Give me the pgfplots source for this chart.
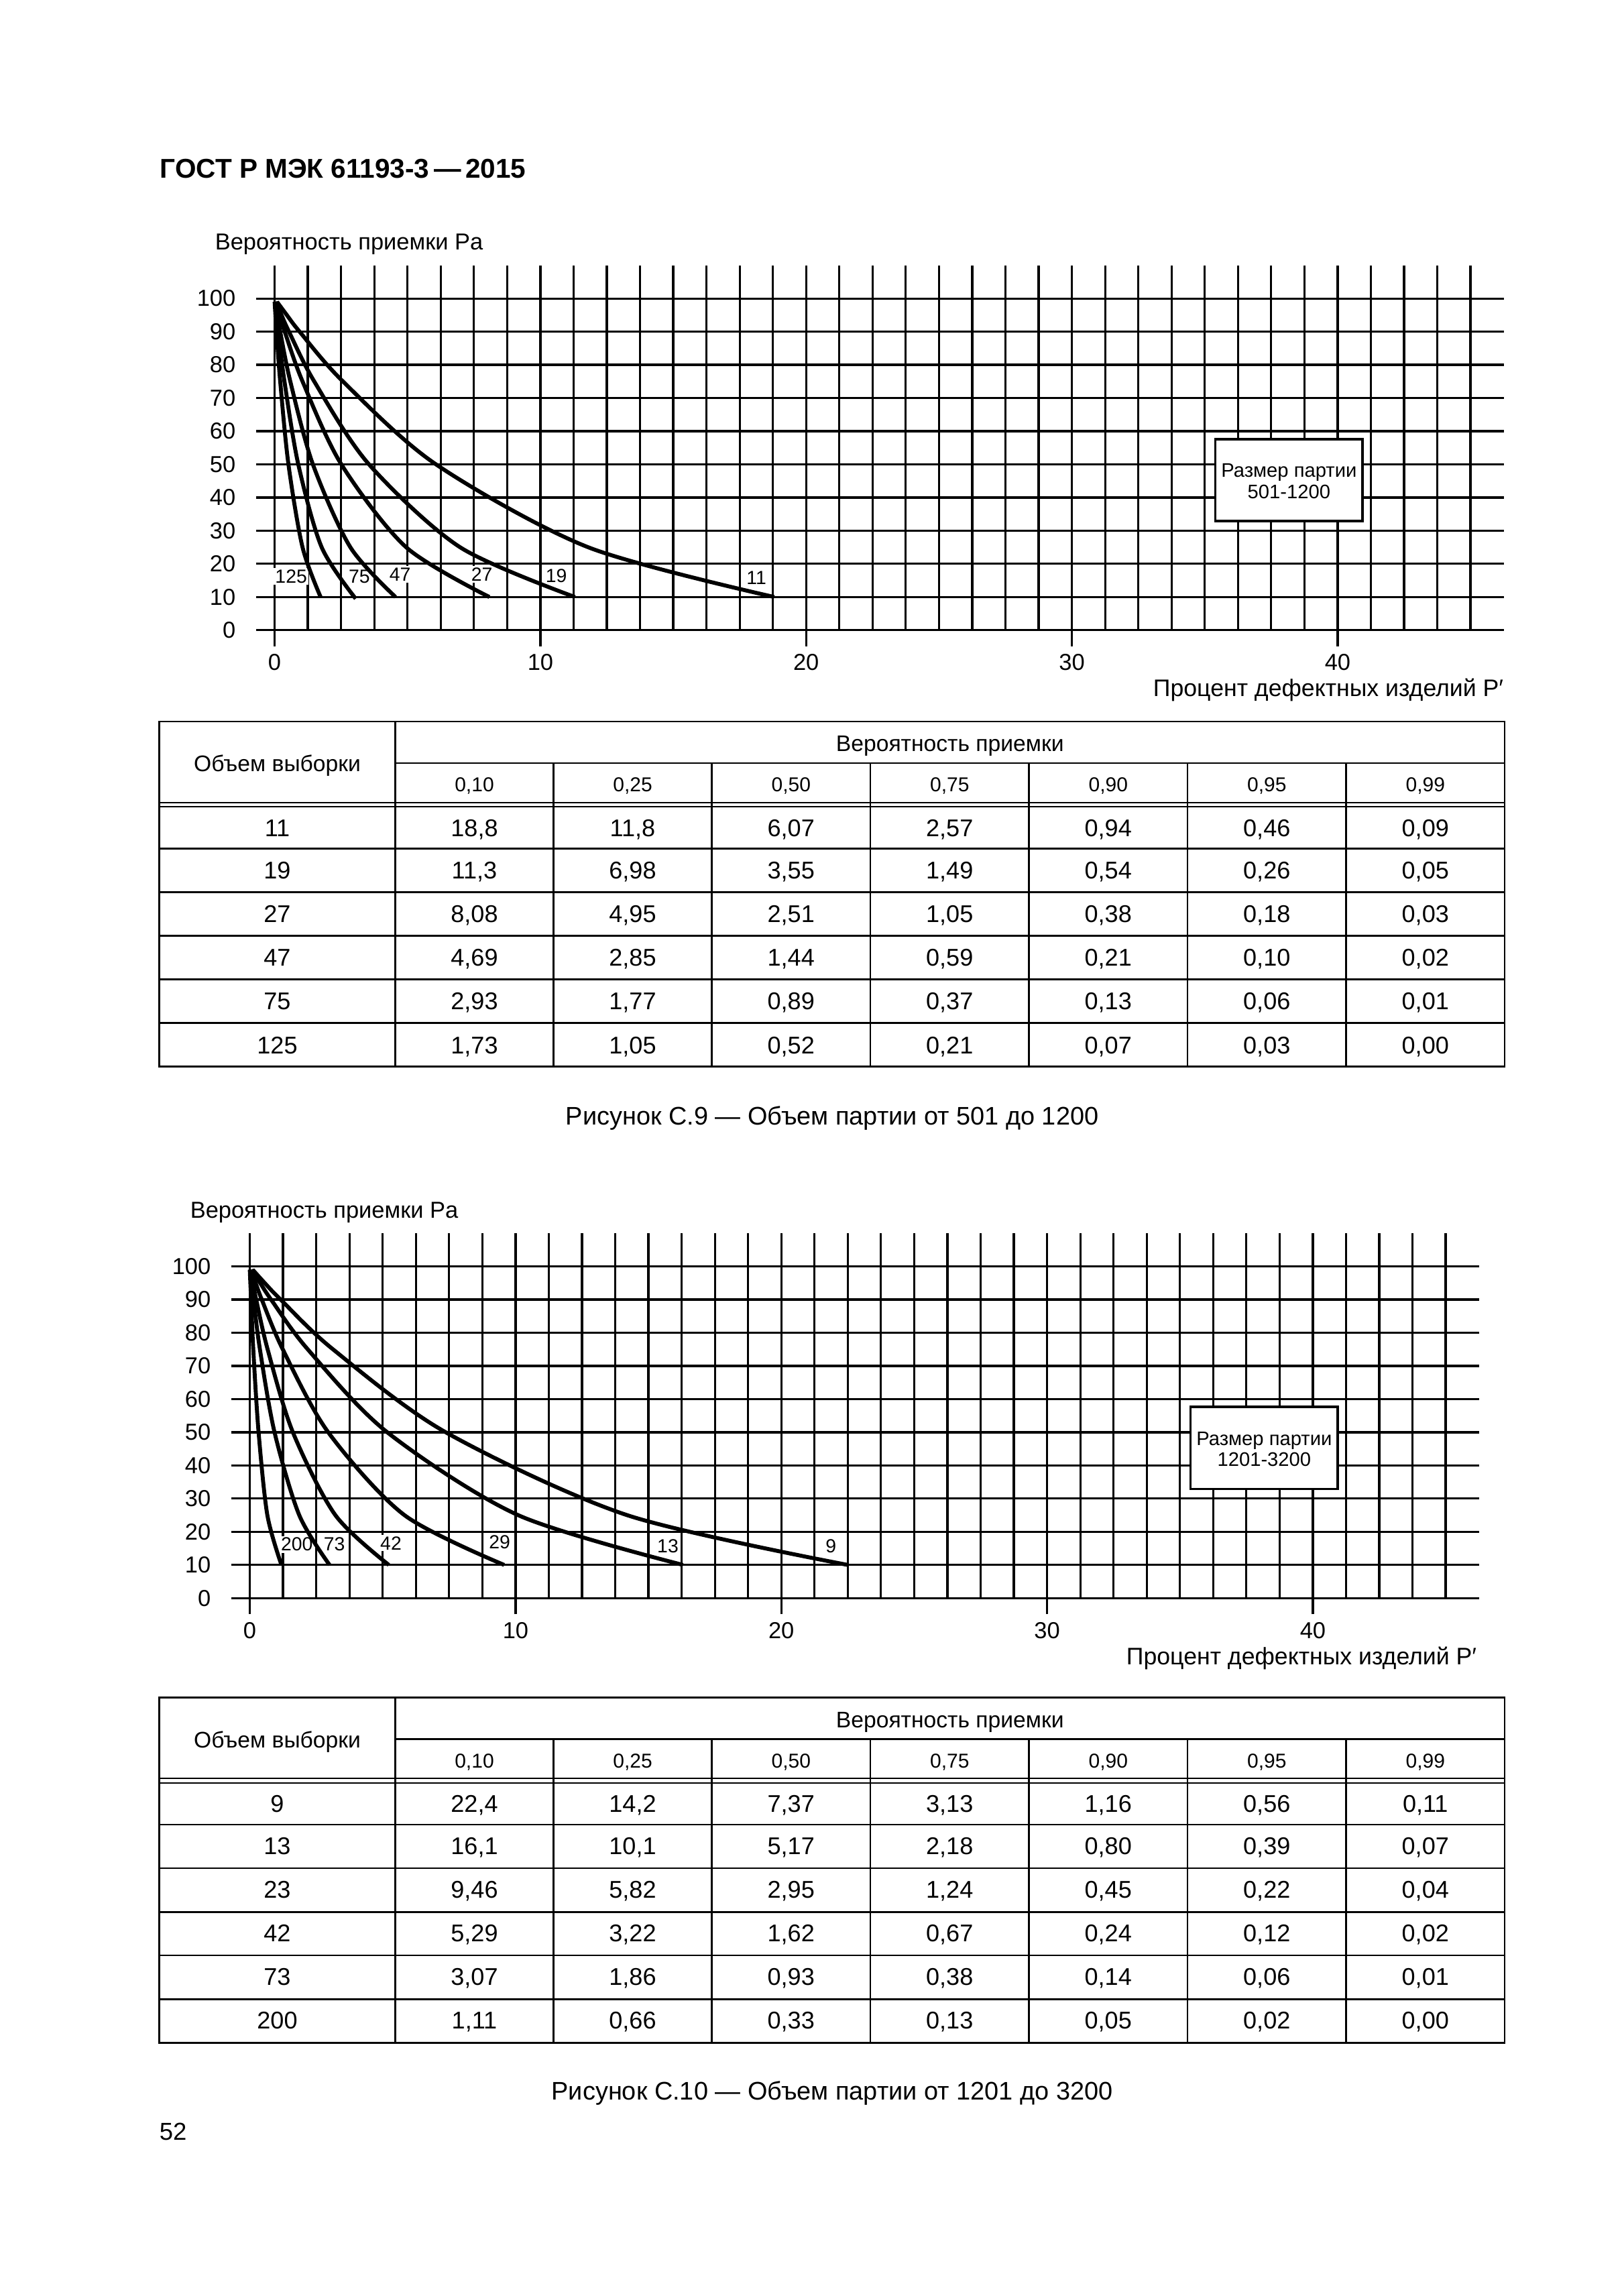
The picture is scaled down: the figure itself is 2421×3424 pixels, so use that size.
\documentclass[border=0pt]{standalone}
\usepackage{fontspec}
\setmainfont{Liberation Sans}
\usepackage{pgfplots}
\pgfplotsset{compat=1.18}

\newcommand\fs[1]{\fontsize{#1}{#1}\selectfont}

% common look of both OC charts
\pgfplotsset{oc/.style={
  x=3.4373mm, y=0.42899mm, anchor=south west,
  xmin=-0.7, xmax=46.25, ymin=0, ymax=110,
  clip=false,
  axis line style={draw=none},
  xtick={0,10,20,30,40},
  minor xtick={1.25,2.5,...,45},
  ytick={0,10,...,100},
  grid=both,
  major grid style={black,line width=0.8pt},
  minor grid style={black,line width=0.8pt},
  tick align=outside,
  major tick length=2.08mm, minor tick length=0pt,
  xtick pos=bottom, ytick pos=left,
  xtick style={black,line width=0.8pt},
  ytick style={draw=none},
  tick label style={font=\fs{8.5}},
  /pgf/number format/assume math mode=true,
  xticklabel style={anchor=north,inner sep=0pt,yshift=-0.95mm},
  yticklabel style={anchor=east,inner sep=0pt,xshift=-0.5mm},
}}
\tikzset{
  oc curve/.style={black,line width=1.45pt,smooth,mark=none},
  lab/.style={fill=white,inner sep=0.6pt,font=\fs{7}},
  hd/.style={anchor=base,inner sep=0pt,font=\fs{8.3}},
  hv/.style={anchor=base,inner sep=0pt,font=\fs{7.4}},
  dv/.style={anchor=base,inner sep=0pt,font=\fs{8.9}},
}

% table frame, #1 = top edge
\newcommand\tablegrid[1]{%
\begin{scope}[shift={(0,#1)},line width=0.65pt]
  \draw (237.5,0) rectangle (2244,-514.7);
  \draw (589.5,-62) -- (2244,-62);
  \draw[line width=0.45pt] (237.5,-120.7) -- (2244,-120.7) (237.5,-127.3) -- (2244,-127.3);
  \foreach \r in {189.4,254.4,319.7,384.4,449.7} \draw (237.5,-\r) -- (2244,-\r);
  \draw (589.5,0) -- (589.5,-514.7);
  \foreach \c in {825.5,1061.5,1298,1534.5,1771,2007.5} \draw (\c,-62) -- (\c,-514.7);
  \node[hd] at (1416.75,-44.5) {Вероятность приемки};
  \node[hd] at (413.5,-74.5) {Объем выборки};
  \node[hv] at (707.5,-105) {0,10};
  \node[hv] at (943.5,-105) {0,25};
  \node[hv] at (1179.75,-105) {0,50};
  \node[hv] at (1416.25,-105) {0,75};
  \node[hv] at (1652.75,-105) {0,90};
  \node[hv] at (1889.25,-105) {0,95};
  \node[hv] at (2125.75,-105) {0,99};
\end{scope}}

% one table row, #1 = baseline
\newcommand\trow[9]{%
  \node[dv] at (413.5,#1) {#2};
  \node[dv] at (707.5,#1) {#3};
  \node[dv] at (943.5,#1) {#4};
  \node[dv] at (1179.75,#1) {#5};
  \node[dv] at (1416.25,#1) {#6};
  \node[dv] at (1652.75,#1) {#7};
  \node[dv] at (1889.25,#1) {#8};
  \node[dv] at (2125.75,#1) {#9};}

\begin{document}
\begin{tikzpicture}[x=0.086735mm,y=0.086735mm]
\useasboundingbox (0,0) rectangle (2421,3424);
\fill[white] (0,0) rectangle (2421,3424);

\node[anchor=base west,inner sep=0pt,font=\fs{10}\bfseries] at (238,3158) {ГОСТ Р МЭК 61193-3\,—\,2015};

% ---------- Figure C.9 ----------
\node[anchor=base west,inner sep=0pt,font=\fs{8.5}] at (320,3051.3) {Вероятность приемки Pa};
\node[anchor=base east,inner sep=0pt,font=\fs{8.8}] at (2243,2385) {Процент дефектных изделий P′};

\begin{axis}[oc, at={(33.115mm,215.45mm)}]
\draw[fill=white,line width=0.9pt] (axis cs:35.4,32.9) rectangle (axis cs:40.93,57.6);
\node[align=center,font=\fontsize{7.2}{7.7}\selectfont] at (axis cs:38.17,44.9) {Размер партии\\501-1200};
\node[lab] at (axis cs:0.62,16.2) {125};
\node[lab] at (axis cs:3.19,16.2) {75};
\node[lab] at (axis cs:4.72,16.8) {47};
\node[lab] at (axis cs:7.80,16.9) {27};
\node[lab] at (axis cs:10.60,16.4) {19};
\node[lab] at (axis cs:18.13,15.7) {11};
\addplot[oc curve] coordinates {(18.8,10) (11.8,25) (6.07,50) (2.57,75) (0.94,90) (0.46,95) (0.09,99)};
\addplot[oc curve] coordinates {(11.3,10) (6.98,25) (3.55,50) (1.49,75) (0.54,90) (0.26,95) (0.05,99)};
\addplot[oc curve] coordinates {(8.08,10) (4.95,25) (2.51,50) (1.05,75) (0.38,90) (0.18,95) (0.03,99)};
\addplot[oc curve] coordinates {(4.55,10) (2.85,25) (1.44,50) (0.59,75) (0.21,90) (0.10,95) (0.02,99)};
\addplot[oc curve] coordinates {(3.05,9.5) (1.77,25) (0.89,50) (0.37,75) (0.13,90) (0.06,95) (0.01,99)};
\addplot[oc curve] coordinates {(1.73,10) (1.05,25) (0.52,50) (0.21,75) (0.07,90) (0.03,95) (0.00,99)};
\end{axis}

\tablegrid{2348}
\trow{2176.8}{11}{18,8}{11,8}{6,07}{2,57}{0,94}{0,46}{0,09}
\trow{2113.1}{19}{11,3}{6,98}{3,55}{1,49}{0,54}{0,26}{0,05}
\trow{2048}{27}{8,08}{4,95}{2,51}{1,05}{0,38}{0,18}{0,03}
\trow{1983}{47}{4,69}{2,85}{1,44}{0,59}{0,21}{0,10}{0,02}
\trow{1918}{75}{2,93}{1,77}{0,89}{0,37}{0,13}{0,06}{0,01}
\trow{1852.8}{125}{1,73}{1,05}{0,52}{0,21}{0,07}{0,03}{0,00}

\node[anchor=base,inner sep=0pt,font=\fs{9.35}] at (1241,1746.5) {Рисунок С.9 — Объем партии от 501 до 1200};

% ---------- Figure C.10 ----------
\node[anchor=base west,inner sep=0pt,font=\fs{8.5}] at (283,1607.3) {Вероятность приемки Pa};
\node[anchor=base east,inner sep=0pt,font=\fs{8.8}] at (2203,941.5) {Процент дефектных изделий P′};

\begin{axis}[oc, at={(29.906mm,90.265mm)}]
\draw[fill=white,line width=0.9pt] (axis cs:35.4,32.9) rectangle (axis cs:40.93,57.6);
\node[align=center,font=\fontsize{7.2}{7.7}\selectfont] at (axis cs:38.17,44.9) {Размер партии\\1201-3200};
\node[lab] at (axis cs:1.77,16.2) {200};
\node[lab] at (axis cs:3.18,16.2) {73};
\node[lab] at (axis cs:5.31,16.6) {42};
\node[lab] at (axis cs:9.40,16.9) {29};
\node[lab] at (axis cs:15.73,15.7) {13};
\node[lab] at (axis cs:21.87,15.7) {9};
\addplot[oc curve] coordinates {(22.5,10) (14.2,25) (7.37,50) (3.13,75) (1.16,90) (0.56,95) (0.11,99)};
\addplot[oc curve] coordinates {(16.3,10) (10.1,25) (5.17,50) (2.18,75) (0.80,90) (0.39,95) (0.07,99)};
\addplot[oc curve] coordinates {(9.57,10) (5.82,25) (2.95,50) (1.24,75) (0.45,90) (0.22,95) (0.04,99)};
\addplot[oc curve] coordinates {(5.23,10) (3.22,25) (1.62,50) (0.67,75) (0.24,90) (0.12,95) (0.02,99)};
\addplot[oc curve] coordinates {(3.00,10) (1.86,25) (0.93,50) (0.38,75) (0.14,90) (0.06,95) (0.01,99)};
\addplot[oc curve] coordinates {(1.19,10) (0.66,25) (0.33,50) (0.13,75) (0.05,90) (0.02,95) (0.00,99)};
\end{axis}

\tablegrid{892.4}
\trow{721.3}{9}{22,4}{14,2}{7,37}{3,13}{1,16}{0,56}{0,11}
\trow{658.5}{13}{16,1}{10,1}{5,17}{2,18}{0,80}{0,39}{0,07}
\trow{593.4}{23}{9,46}{5,82}{2,95}{1,24}{0,45}{0,22}{0,04}
\trow{528.4}{42}{5,29}{3,22}{1,62}{0,67}{0,24}{0,12}{0,02}
\trow{463.6}{73}{3,07}{1,86}{0,93}{0,38}{0,14}{0,06}{0,01}
\trow{398.6}{200}{1,11}{0,66}{0,33}{0,13}{0,05}{0,02}{0,00}

\node[anchor=base,inner sep=0pt,font=\fs{9.35}] at (1241,292.3) {Рисунок С.10 — Объем партии от 1201 до 3200};

\node[anchor=base west,inner sep=0pt,font=\fs{9}] at (237,232) {52};
\end{tikzpicture}
\end{document}
